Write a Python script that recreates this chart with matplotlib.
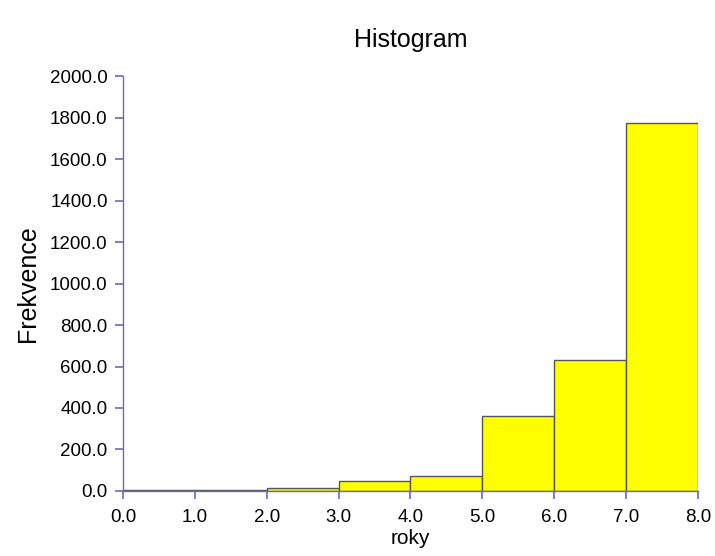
import matplotlib.pyplot as plt
import numpy as np

plt.rcParams['font.family'] = ['Liberation Sans', 'DejaVu Sans']

# bin edges (roky) and counts per bin
edges = [0, 1, 2, 3, 4, 5, 6, 7, 8]
counts = [5, 5, 15, 50, 74, 361, 631, 1773]
xticks = [0, 1, 2, 3, 4, 5, 6, 7, 8]
yticks = [0, 200, 400, 600, 800, 1000, 1200, 1400, 1600, 1800, 2000]

axis_col = '#6b6bb5'

fig = plt.figure(figsize=(7.15, 5.56), dpi=100)
ax = fig.add_axes([0.172, 0.117, 0.804, 0.746])

widths = np.diff(edges)
ax.bar(edges[:-1], counts, width=widths, align='edge',
       color='#ffff00', edgecolor='#555555', linewidth=1.0)

ax.set_xlim(0, 8)
ax.set_ylim(0, 2000)
ax.set_xticks(xticks)
ax.set_xticklabels([f"{v:.1f}" for v in xticks])
ax.set_yticks(yticks)
ax.set_yticklabels([f"{v:.1f}" for v in yticks])

for s in ['top', 'right']:
    ax.spines[s].set_visible(False)
for s in ['left', 'bottom']:
    ax.spines[s].set_color(axis_col)
    ax.spines[s].set_linewidth(1.0)
ax.tick_params(colors=axis_col, labelcolor='black', labelsize=13.5,
               length=6, width=1.2, direction='out')
ax.tick_params(axis='x', pad=7)
ax.tick_params(axis='y', pad=5)

ax.set_xlabel('roky', fontsize=15, labelpad=2)
ax.set_ylabel('Frekvence', fontsize=18)
ax.yaxis.set_label_coords(-0.145, 0.5)
fig.text(0.574, 0.928, 'Histogram', ha='center', va='center', fontsize=18)

fig.savefig('out.png', dpi=100)
